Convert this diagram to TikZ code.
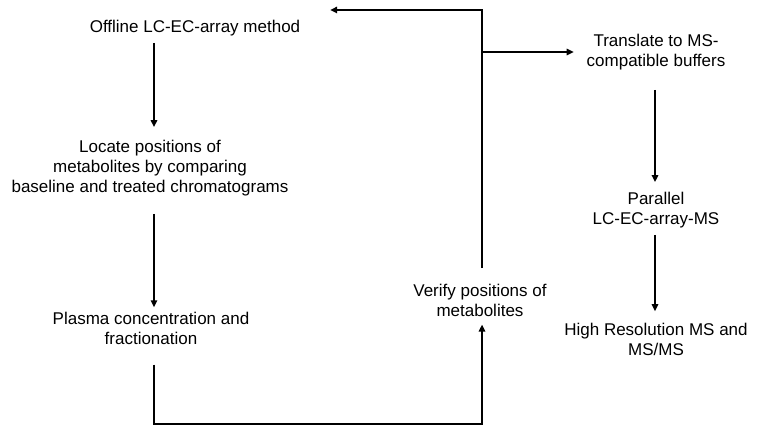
\documentclass[tikz,border=0pt]{standalone}
\usepackage{fontspec}
\setmainfont{Liberation Sans}
\usetikzlibrary{arrows.meta}
\begin{document}
\begin{tikzpicture}[x=1pt,y=-1pt,
  lbl/.style={font=\fontsize{17}{20}\selectfont, align=center, inner sep=0pt, outer sep=0pt},
  conn/.style={line width=1.5pt},
  arr/.style={conn, -{Triangle[length=7pt,width=6.5pt]}}]
\useasboundingbox (0,0) rectangle (757,427);
% column and row helpers
\coordinate (colA) at (154,0);
\coordinate (colB) at (482,0);
\coordinate (colC) at (655,0);
\coordinate (rowTop) at (0,10);
\coordinate (rowBr) at (0,52);
\coordinate (rowBot) at (0,424);
% nodes
\node[lbl] (off) at (195,28) {Offline LC-EC-array method};
\node[lbl] (loc) at (150,168) {Locate positions of\\metabolites by comparing\\baseline and treated chromatograms};
\node[lbl] (pla) at (151,328.5) {Plasma concentration and\\fractionation};
\node[lbl] (ver) at (480,300.4) {Verify positions of\\metabolites};
\node[lbl] (tra) at (656,52) {Translate to MS-\\compatible buffers};
\node[lbl] (par) at (656,210) {Parallel\\LC-EC-array-MS};
\node[lbl] (hig) at (656,339.4) {High Resolution MS and\\MS/MS};
% connectors
\draw[arr] ([yshift=-7pt]off.south -| colA) -- ([yshift=13pt]loc.north -| colA);
\draw[arr] ([yshift=-18pt]loc.south -| colA) -- ([yshift=5pt]pla.north -| colA);
\draw[arr] ([yshift=-20pt]pla.south -| colA) -- (colA |- rowBot) -- (colB |- rowBot) -- ([yshift=-8pt]ver.south -| colB);
\draw[arr] ([yshift=16pt]ver.north -| colB) -- (colB |- rowTop) -- ([xshift=30pt]off.east |- rowTop);
\draw[arr] (colB |- rowBr) -- ([xshift=-13pt]tra.west |- rowBr);
\draw[arr] ([yshift=-20pt]tra.south -| colC) -- ([yshift=10pt]par.north -| colC);
\draw[arr] ([yshift=-7pt]par.south -| colC) -- ([yshift=12pt]hig.north -| colC);
\end{tikzpicture}
\end{document}
